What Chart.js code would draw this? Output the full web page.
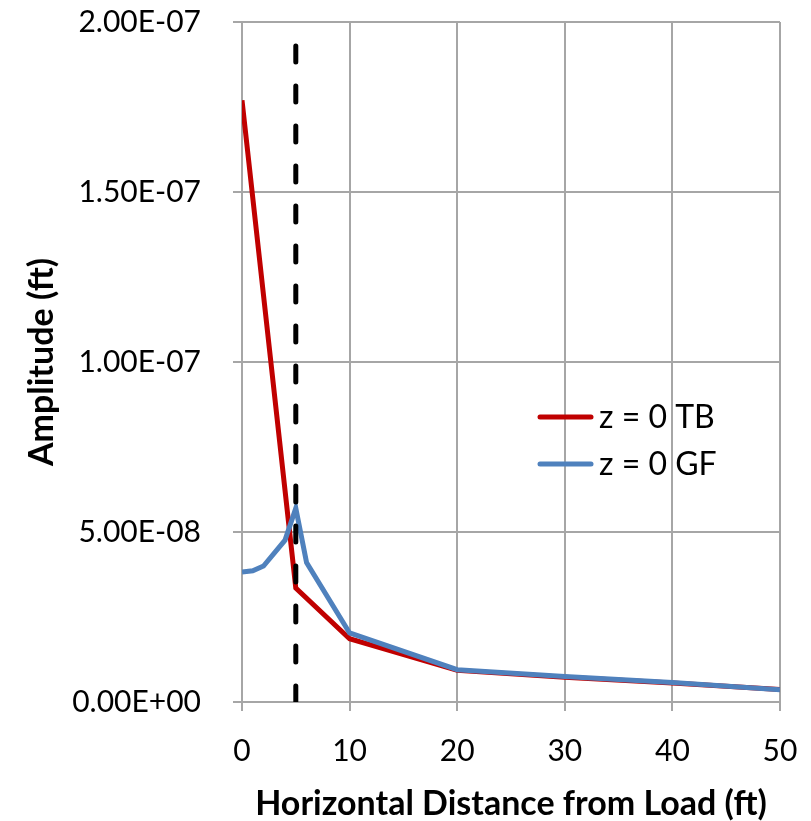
<!DOCTYPE html>
<html>
<head>
<meta charset="utf-8">
<script src="https://cdn.jsdelivr.net/npm/chart.js@4"></script>
<style>
  html, body { margin: 0; padding: 0; background: #fff; }
  #wrap { width: 811px; height: 821px; }
</style>
</head>
<body>
<div id="wrap"><canvas id="ampChart" width="811" height="821"></canvas></div>
<script>
// values
const tbDistance = [0, 5, 10, 20, 30, 40, 50];
const tbAmplitude = [1.77e-7, 3.35e-8, 1.86e-8, 9.3e-9, 7.3e-9, 5.6e-9, 3.7e-9];

const gfDistance = [0, 1, 2, 4, 5, 6, 10, 20, 30, 40, 50];
const gfAmplitude = [3.82e-8, 3.86e-8, 4.0e-8, 4.76e-8, 5.7e-8, 4.1e-8, 2.03e-8, 9.5e-9, 7.5e-9, 5.7e-9, 3.6e-9];

const loadEdgeX = [5, 5];
const loadEdgeY = [0, 1.95e-7];

const seriesLabels = ["z = 0 TB", "z = 0 GF"];

function toPoints(xs, ys) {
  return xs.map((x, i) => ({ x: x, y: ys[i] }));
}

function sciLabel(v) {
  let s = Number(v).toExponential(2).toUpperCase();
  return s.replace(/E([+-])(\d)$/, "E$10$2");
}

// legend drawn inside the plot, like the original
const innerLegend = {
  id: "innerLegend",
  afterDraw(chart) {
    const ctx = chart.ctx;
    const rows = chart.data.datasets
      .filter(d => d.label)
      .sort((a, b) => seriesLabels.indexOf(a.label) - seriesLabels.indexOf(b.label));
    ctx.save();
    ctx.font = "32px Lato";
    ctx.textBaseline = "middle";
    ctx.lineCap = "round";
    rows.forEach((d, i) => {
      const y = 417 + i * 47;
      ctx.strokeStyle = d.borderColor;
      ctx.lineWidth = 5;
      ctx.beginPath();
      ctx.moveTo(540, y);
      ctx.lineTo(591, y);
      ctx.stroke();
      ctx.fillStyle = "#000";
      ctx.fillText(d.label, 599, y + 1);
    });
    ctx.restore();
  }
};

const gridColor = "#A6A6A6";

new Chart(document.getElementById("ampChart").getContext("2d"), {
  type: "scatter",
  data: {
    datasets: [
      {
        data: toPoints(loadEdgeX, loadEdgeY),
        showLine: true,
        borderColor: "#000000",
        borderWidth: 5,
        borderDash: [16, 24],
        borderCapStyle: "round",
        pointRadius: 0,
        order: 0
      },
      {
        label: seriesLabels[1],
        data: toPoints(gfDistance, gfAmplitude),
        showLine: true,
        borderColor: "#4F81BD",
        borderWidth: 5,
        pointRadius: 0,
        order: 1
      },
      {
        label: seriesLabels[0],
        data: toPoints(tbDistance, tbAmplitude),
        showLine: true,
        borderColor: "#C00000",
        borderWidth: 5,
        pointRadius: 0,
        order: 2
      }
    ]
  },
  options: {
    responsive: false,
    animation: false,
    layout: { padding: { top: 22, right: 31, left: 0, bottom: 0 } },
    plugins: {
      legend: { display: false },
      tooltip: { enabled: false }
    },
    scales: {
      x: {
        type: "linear",
        min: 0,
        max: 50,
        ticks: {
          stepSize: 10,
          color: "#000",
          font: { family: "Lato", size: 30 },
          padding: 22
        },
        grid: { color: gridColor, lineWidth: 2, tickLength: 9 },
        border: { color: gridColor, width: 2 },
        title: {
          display: true,
          text: "Horizontal Distance from Load (ft)",
          color: "#000",
          font: { family: "Lato", size: 34, weight: "bold", lineHeight: 1 },
          padding: { top: 0, bottom: 0 }
        },
        afterFit(scale) {
          scale.height = 119;
          scale.paddingLeft = 0;
          scale.paddingRight = 0;
        }
      },
      y: {
        min: 0,
        max: 2e-7,
        ticks: {
          stepSize: 5e-8,
          color: "#000",
          font: { family: "Lato", size: 30 },
          padding: 32,
          callback: v => sciLabel(v)
        },
        grid: { color: gridColor, lineWidth: 2, tickLength: 9 },
        border: { color: gridColor, width: 2 },
        title: {
          display: true,
          text: "Amplitude (ft)",
          color: "#000",
          font: { family: "Lato", size: 34, weight: "bold", lineHeight: 1 },
          padding: { top: 25, bottom: 0 }
        },
        afterFit(scale) {
          scale.width = 242;
          scale.paddingTop = 0;
          scale.paddingBottom = 0;
        }
      }
    }
  },
  plugins: [innerLegend]
});
</script>
</body>
</html>
